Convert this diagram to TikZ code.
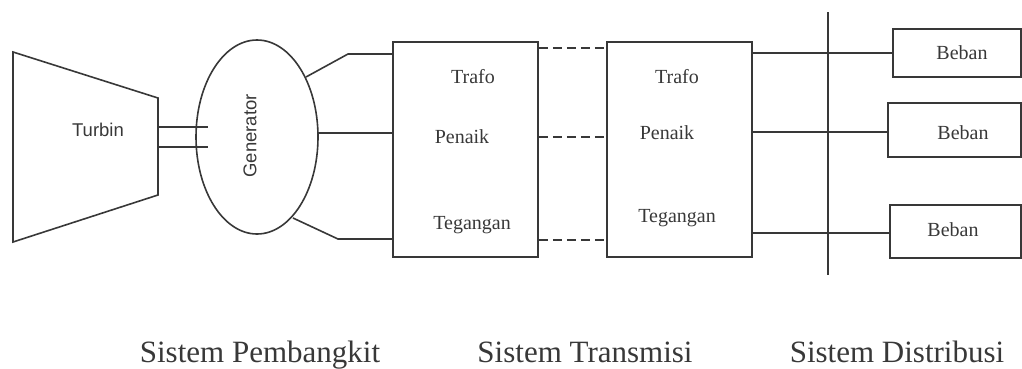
\documentclass[tikz,border=0pt]{standalone}
\usepackage{fontspec}
\setmainfont{Liberation Serif}
\setsansfont{Liberation Sans}
\usetikzlibrary{shapes.geometric}
\definecolor{ink}{gray}{0.22}
\tikzset{
  ln/.style={draw=ink, line width=1.6pt},
  blk/.style={draw=ink, line width=1.6pt, fill=none},
  dsh/.style={draw=ink, line width=1.6pt, dash pattern=on 9pt off 5pt},
  lbl/.style={text=ink, font=\fontsize{20}{22}\selectfont, inner sep=0pt},
  slbl/.style={text=ink, font=\sffamily\fontsize{18.5}{20}\selectfont, inner sep=0pt},
  big/.style={text=ink, font=\fontsize{31}{34}\selectfont, inner sep=0pt, anchor=base},
}
\begin{document}
\begin{tikzpicture}[x=1pt,y=-1pt]
\useasboundingbox (0,0) rectangle (1022,368);
% Turbine
\coordinate (t1) at (13,52);
\coordinate (t2) at (158,98);
\coordinate (t3) at (158,195);
\coordinate (t4) at (13,242);
\draw[blk, line join=miter] (t1) -- (t2) -- (t3) -- (t4) -- cycle;
\node[slbl] (turbin) at (98,130) {Turbin};
% Generator
\node[ellipse, blk, minimum width=122pt, minimum height=194pt, inner sep=0pt] (gen) at (257,137) {};
\node[slbl, rotate=90] (gentext) at (250,136) {Generator};
% shaft
\coordinate (s1) at (158,127);
\coordinate (s2) at (158,147);
\draw[ln] (s1) -- (208,127);
\draw[ln] (s2) -- (208,147);
% Trafo boxes
\node[blk, minimum width=145pt, minimum height=215pt, inner sep=0pt] (tr1) at (465.5,149.5) {};
\node[blk, minimum width=145pt, minimum height=215pt, inner sep=0pt] (tr2) at (679.5,149.5) {};
\node[lbl] (a1) at (473,77) {Trafo};
\node[lbl] (b1) at (462,137) {Penaik};
\node[lbl] (c1) at (472,225) {Tegangan};
\node[lbl] (a2) at (677,77) {Trafo};
\node[lbl] (b2) at (667,133) {Penaik};
\node[lbl] (c2) at (677,218) {Tegangan};
% generator to trafo 1
\coordinate (g1) at (306,77);
\coordinate (g2) at (318,133);
\coordinate (g3) at (293,218);
\draw[ln] (g1) -- (348,54) -- (tr1.west |- 0,54);
\draw[ln] (g2) -- (tr1.west |- 0,133);
\draw[ln] (g3) -- (338,239) -- (tr1.west |- 0,239);
% dashed transmission
\draw[dsh] (tr1.east |- 0,48) -- (tr2.west |- 0,48);
\draw[dsh] (tr1.east |- 0,137) -- (tr2.west |- 0,137);
\draw[dsh] (tr1.east |- 0,240) -- (tr2.west |- 0,240);
% Beban boxes
\node[blk, minimum width=128pt, minimum height=48pt, inner sep=0pt] (be1) at (957,53) {};
\node[blk, minimum width=133pt, minimum height=54pt, inner sep=0pt] (be2) at (954.5,130) {};
\node[blk, minimum width=131pt, minimum height=53pt, inner sep=0pt] (be3) at (955.5,231.5) {};
\node[lbl] (bt1) at (962,53) {Beban};
\node[lbl] (bt2) at (963,133) {Beban};
\node[lbl] (bt3) at (953,230) {Beban};
% distribution lines
\draw[ln] (tr2.east |- 0,53) -- (be1.west |- 0,53);
\draw[ln] (tr2.east |- 0,132) -- (be2.west |- 0,132);
\draw[ln] (tr2.east |- 0,233) -- (be3.west |- 0,233);
% divider
\coordinate (v1) at (828,12);
\coordinate (v2) at (828,275);
\draw[ln, line width=1.3pt] (v1) -- (v2);
% bottom labels
\node[big] (l1) at (260,362) {Sistem Pembangkit};
\node[big] (l2) at (585,362) {Sistem Transmisi};
\node[big] (l3) at (897,362) {Sistem Distribusi};
\end{tikzpicture}
\end{document}
